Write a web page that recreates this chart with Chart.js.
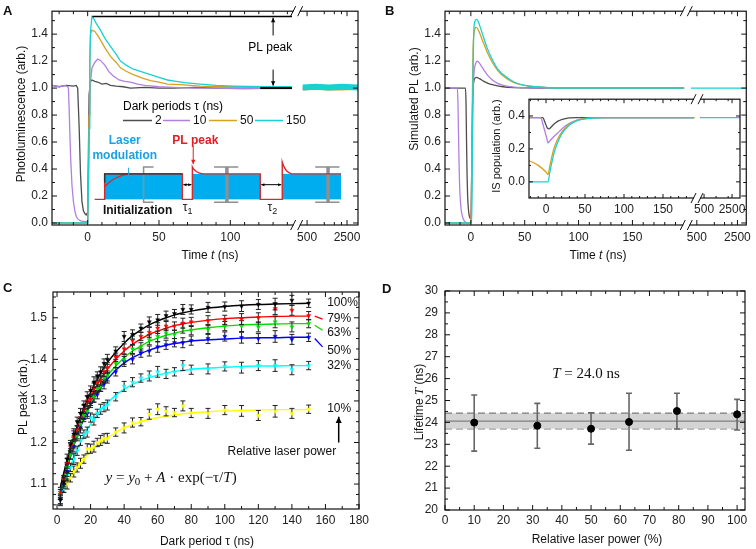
<!DOCTYPE html>
<html lang="en">
<head>
<meta charset="utf-8">
<title>Dark-period photoluminescence</title>
<script src="https://cdn.jsdelivr.net/npm/chart.js@4.4.1/dist/chart.umd.min.js"></script>
<style>
  html, body { margin: 0; padding: 0; background: #fff; }
  #fig { position: relative; width: 756px; height: 549px; overflow: hidden; }
  #fig canvas { position: absolute; }
</style>
</head>
<body>
<div id="fig">
  <canvas id="cA" width="378" height="275" style="left:0px;top:0px"></canvas>
  <canvas id="cB" width="378" height="275" style="left:378px;top:0px"></canvas>
  <canvas id="cBin" width="270" height="135" style="left:480px;top:88px"></canvas>
  <canvas id="cC" width="378" height="274" style="left:0px;top:275px"></canvas>
  <canvas id="cD" width="378" height="274" style="left:378px;top:275px"></canvas>
</div>
<script>
const SANS = '"Liberation Sans", Arial, sans-serif'
const SERIF = '"Liberation Serif", "Times New Roman", serif'
Chart.defaults.font.family = SANS
Chart.defaults.font.size = 12
Chart.defaults.color = '#222'

// ---------- A: measured PL for four dark periods (t in ns) ----------
const darkPeriods = ['2', '10', '50', '150']
const tA_2 = [-25,-20,-15,-10,-8,-7,-6,-5,-4,-3,-2,-1,0,0.5,1,2,3,5,7,10,13,16,20,25,30,40,50,60,75,90,110,130,143]
const plA_2 = [1.02,1.01,1.02,1.015,1.02,1.0,0.72,0.36,0.16,0.09,0.07,0.06,0.08,0.5,0.95,1.05,1.06,1.05,1.045,1.03,1.035,1.02,1.015,1.01,1.0,1.005,1.0,1.0,1.005,1.0,1.0,1.005,1.0]
const tA_10 = [-25,-20,-16,-14,-13.5,-13,-12,-11,-10,-9,-8,-7,-5,-2,0,0.5,1,2,3,5,7,9,12,15,18,22,26,30,35,40,50,60,75,90,110,130,143]
const plA_10 = [1.02,1.01,1.02,1.01,1.0,0.85,0.5,0.28,0.16,0.09,0.05,0.03,0.015,0.01,0.01,0.3,0.7,1.05,1.15,1.19,1.215,1.205,1.17,1.12,1.09,1.06,1.05,1.045,1.03,1.02,1.01,1.005,1.0,1.0,0.995,1.0,1.0]
const tA_50 = [-25,-10,-2,0,0.5,1,1.5,2,3,5,7,9,12,16,20,23,27,32,38,44,50,56,65,79,90,102,120,143]
const plA_50 = [0,0,0,0,0.3,0.8,1.2,1.4,1.43,1.42,1.39,1.355,1.3,1.235,1.19,1.15,1.125,1.1,1.075,1.055,1.045,1.03,1.025,1.015,1.01,1.01,1.005,1.0]
const tA_150 = [-25,-10,-2,0,0.5,1,1.5,2,3,4,6,9,12,16,20,23,27,32,38,44,50,56,62,68,79,90,102,126,143]
const plA_150 = [0,0,0,0,0.25,0.7,1.15,1.42,1.53,1.52,1.48,1.43,1.37,1.31,1.25,1.2,1.17,1.14,1.12,1.1,1.08,1.06,1.05,1.04,1.03,1.02,1.015,1.01,1.01]
const tA_late = [420, 700, 1200, 2000, 3900]
const plLateA_2 = [1.0, 1.0, 1.0, 1.0, 1.0]
const plLateA_10 = [1.0, 1.0, 1.0, 1.0, 1.0]
const plLateA_50 = [0.99, 0.995, 0.99, 0.99, 0.995]
const plLateA_150 = [1.005, 1.01, 1.005, 1.01, 1.005]
const xTicksA = [0, 50, 100, 500, 2500]
const yTicksPL = [0, 0.2, 0.4, 0.6, 0.8, 1.0, 1.2, 1.4]
const plPeakLevel = 1.53

// ---------- B: simulated PL ----------
const tB_2 = [-24,-6,-5,-4.5,-4,-3.5,-3,-2,-1,0,0.5,1,1.5,2,3,5,8,12,16,20,25,30,40,50,60,80,198]
const plB_2 = [1.0,1.0,1.0,0.9,0.6,0.35,0.2,0.08,0.04,0.03,0.2,0.55,0.85,0.98,1.06,1.08,1.07,1.05,1.035,1.025,1.017,1.01,1.004,1.002,1.0,1.0,1.0]
const tB_10 = [-24,-12.5,-12,-11.5,-11,-10.5,-10,-9,-8,-7,-5.5,-3,0,0.5,1,2,3,4,6,8,10,12,16,20,25,30,40,50,60,80,198]
const plB_10 = [1.0,1.0,0.9,0.68,0.46,0.3,0.2,0.1,0.055,0.03,0.01,0,0,0.15,0.45,0.95,1.12,1.17,1.2,1.185,1.16,1.135,1.09,1.06,1.035,1.02,1.007,1.003,1.0,1.0,1.0]
const tB_50 = [-24,0,0.5,1,1.5,2,3,4,5,7,10,15,20,25,30,40,50,60,80,198]
const plB_50 = [0,0,0.15,0.6,1.0,1.27,1.41,1.445,1.45,1.43,1.37,1.27,1.19,1.13,1.09,1.04,1.02,1.01,1.0,1.0]
const tB_150 = [-24,0.8,1.2,1.6,2,2.5,3,4,5.5,7,10,15,20,25,30,40,50,60,80,198]
const plB_150 = [0,0,0.3,0.75,1.1,1.35,1.46,1.5,1.51,1.49,1.42,1.3,1.21,1.14,1.1,1.045,1.02,1.01,1.0,1.0]
const tB_late = [395, 3550]
const plB_late = [1.0, 1.0]
const xTicksB = [0, 50, 100, 150, 500, 2500]

// ---------- B inset: IS population ----------
const tIn_2 = [-22,-4,-2,0,2,4,6,9,12,16,20,25,30,40,60,190]
const isIn_2 = [0.39,0.39,0.37,0.345,0.325,0.322,0.33,0.345,0.358,0.37,0.378,0.384,0.388,0.39,0.39,0.39]
const tIn_10 = [-22,-6.5,-4,-1,1,2.5,5,10,15,20,25,30,40,50,70,190]
const isIn_10 = [0.39,0.39,0.35,0.3,0.265,0.237,0.25,0.275,0.297,0.32,0.34,0.355,0.375,0.385,0.39,0.39]
const tIn_50 = [-22,-10,0,2.6,5,10,15,20,30,40,60,80,190]
const isIn_50 = [0.13,0.1,0.06,0.045,0.1,0.2,0.26,0.3,0.35,0.375,0.388,0.39,0.39]
const tIn_150 = [-22,2.6,5,10,15,20,30,40,60,80,190]
const isIn_150 = [0,0,0.06,0.17,0.24,0.29,0.345,0.372,0.387,0.39,0.39]
const tIn_late = [396, 3950]
const isIn_late = [0.39, 0.39]
const yTicksIn = [0, 0.2, 0.4]

// ---------- C: PL peak vs dark period ----------
const powerLabels = ['100%', '79%', '63%', '50%', '32%', '10%']
const tauC = [2,4,6,8,10,12,14,16,18,20,22,24,26,28,30,35,40,45,50,55,60,65,70,75,80,90,100,110,120,130,140,150]
const peak100 = [1.062,1.105,1.16,1.195,1.22,1.25,1.27,1.29,1.31,1.325,1.345,1.36,1.37,1.39,1.40,1.42,1.455,1.46,1.475,1.49,1.495,1.505,1.51,1.52,1.52,1.525,1.527,1.528,1.532,1.533,1.542,1.535]
const peak79 = [1.08,1.11,1.15,1.19,1.215,1.23,1.26,1.28,1.30,1.305,1.33,1.345,1.35,1.37,1.38,1.405,1.425,1.445,1.455,1.465,1.475,1.48,1.48,1.487,1.49,1.493,1.495,1.497,1.50,1.522,1.518,1.505]
const peak63 = [1.075,1.11,1.14,1.17,1.20,1.215,1.245,1.265,1.275,1.30,1.31,1.33,1.335,1.355,1.36,1.39,1.40,1.425,1.43,1.447,1.455,1.462,1.46,1.475,1.47,1.472,1.48,1.48,1.478,1.49,1.478,1.486]
const peak50 = [1.065,1.10,1.13,1.17,1.19,1.22,1.235,1.26,1.27,1.295,1.31,1.315,1.335,1.34,1.355,1.37,1.395,1.40,1.415,1.42,1.43,1.435,1.44,1.44,1.445,1.45,1.455,1.452,1.45,1.455,1.448,1.453]
const peak32 = [1.06,1.09,1.12,1.14,1.16,1.18,1.205,1.22,1.225,1.26,1.255,1.27,1.28,1.285,1.29,1.31,1.335,1.345,1.355,1.36,1.37,1.365,1.37,1.385,1.375,1.377,1.383,1.38,1.385,1.385,1.375,1.385]
const peak10 = [1.075,1.09,1.10,1.115,1.13,1.14,1.15,1.16,1.185,1.185,1.19,1.20,1.205,1.21,1.21,1.225,1.235,1.248,1.25,1.268,1.28,1.275,1.272,1.288,1.271,1.27,1.278,1.276,1.265,1.275,1.27,1.28]
const peakErr = [0.012,0.01,0.012,0.01,0.013,0.011,0.012,0.01,0.012,0.011,0.013,0.01,0.012,0.011,0.012,0.01,0.012,0.011,0.01,0.012,0.013,0.011,0.01,0.012,0.011,0.012,0.011,0.013,0.012,0.014,0.012,0.01]
const fit100 = [1.093,1.127,1.158,1.188,1.214,1.239,1.262,1.283,1.302,1.320,1.337,1.352,1.367,1.380,1.392,1.417,1.439,1.457,1.471,1.483,1.492,1.500,1.507,1.512,1.516,1.523,1.527,1.530,1.532,1.533,1.534,1.535]
const fit79 = [1.091,1.124,1.154,1.182,1.208,1.232,1.254,1.274,1.293,1.309,1.325,1.339,1.353,1.365,1.376,1.400,1.420,1.436,1.449,1.460,1.468,1.475,1.481,1.485,1.489,1.494,1.498,1.500,1.502,1.503,1.504,1.504]
const fit63 = [1.082,1.115,1.144,1.172,1.197,1.220,1.241,1.261,1.279,1.296,1.311,1.325,1.338,1.350,1.361,1.384,1.404,1.420,1.432,1.443,1.451,1.458,1.463,1.468,1.471,1.476,1.480,1.483,1.484,1.485,1.486,1.486]
const fit50 = [1.071,1.106,1.137,1.166,1.192,1.216,1.237,1.257,1.275,1.291,1.306,1.319,1.331,1.342,1.352,1.374,1.391,1.404,1.414,1.422,1.429,1.434,1.438,1.441,1.444,1.447,1.449,1.451,1.452,1.452,1.453,1.453]
const fit32 = [1.065,1.093,1.119,1.142,1.163,1.182,1.200,1.216,1.231,1.244,1.256,1.267,1.278,1.287,1.295,1.314,1.328,1.340,1.349,1.356,1.362,1.367,1.371,1.373,1.376,1.379,1.381,1.383,1.384,1.384,1.385,1.385]
const fit10 = [1.072,1.088,1.103,1.117,1.129,1.141,1.152,1.161,1.170,1.179,1.187,1.194,1.201,1.207,1.212,1.224,1.235,1.243,1.250,1.255,1.260,1.263,1.266,1.269,1.271,1.274,1.276,1.277,1.278,1.279,1.279,1.279]
const labelLevelC = [1.537, 1.499, 1.463, 1.422, 1.384, 1.281]

// ---------- D: lifetime vs laser power ----------
const powD = [10, 31.6, 50, 63, 79.4, 100]
const lifeD = [23.99, 23.85, 23.71, 24.02, 24.52, 24.37]
const lifeLoD = [22.69, 22.82, 23.01, 22.73, 23.70, 23.65]
const lifeHiD = [25.25, 24.87, 24.44, 25.33, 25.33, 25.05]
const lifeMean = 24.06
const lifeBand = [23.71, 24.42]

// broken time axes: linear up to the break, log-like after it
const log5 = v => Math.log(v) / Math.log(5)
const axA = t => t < 300 ? t : 153.8 + 28 * log5(t / 500)
const axB = t => t < 300 ? t : 209.8 + 37.7 * log5(t / 500)
const axI = t => t < 300 ? t : 202.6 + 35.9 * log5(t / 500)

const colGray = '#4d4d4d', colPurple = '#b27fe2', colOrange = '#d6a21e', colCyan = '#19d1d1'
const colsC = ['#000000', '#ff0000', '#00dd00', '#0000ff', '#00ffff', '#ffff00']

function series(t, v, map, color, width, order, smooth) {
    return {
        data: t.map((tt, i) => ({ x: map(tt), y: v[i] })),
        borderColor: color, borderWidth: width, pointRadius: 0, fill: false, order,
        tension: smooth ? 0.4 : 0, cubicInterpolationMode: smooth ? 'monotone' : 'default',
    }
}

function axis(min, max, pos, lab, size, pad, fs) {
    return {
        type: 'linear', min, max,
        grid: { display: false, drawTicks: false }, border: { display: false },
        afterFit: s => { if (s.isHorizontal()) s.height = size; else s.width = size },
        afterBuildTicks: s => { s.ticks = pos.map(v => ({ value: v })) },
        ticks: { autoSkip: false, maxRotation: 0, padding: pad, color: '#222',
                 font: { family: SANS, size: fs || 12 }, callback: (v, i) => lab[i] },
    }
}

function options(pad, x, y) {
    return {
        responsive: false, animation: false, events: [],
        layout: { padding: pad },
        plugins: { legend: { display: false }, tooltip: { enabled: false } },
        scales: { x, y },
    }
}

// box with inward ticks on all four sides
function frame(chart, o) {
    const { ctx, chartArea: a } = chart, sx = chart.scales.x, sy = chart.scales.y
    const maj = o.maj || 5, min = o.min || 3
    ctx.save()
    ctx.strokeStyle = '#111'
    ctx.lineWidth = 1.2
    ctx.strokeRect(a.left, a.top, a.right - a.left, a.bottom - a.top)
    ctx.lineWidth = 1
    ctx.beginPath()
    const xt = (v, l) => { const p = sx.getPixelForValue(v); ctx.moveTo(p, a.bottom); ctx.lineTo(p, a.bottom - l); ctx.moveTo(p, a.top); ctx.lineTo(p, a.top + l) }
    const yt = (v, l) => { const p = sy.getPixelForValue(v); ctx.moveTo(a.left, p); ctx.lineTo(a.left + l, p); ctx.moveTo(a.right, p); ctx.lineTo(a.right - l, p) }
    sx.ticks.forEach(t => xt(t.value, maj))
    o.xMinor.forEach(v => xt(v, min))
    sy.ticks.forEach(t => yt(t.value, maj))
    o.yMinor.forEach(v => yt(v, min))
    ctx.stroke()
    if (o.xBreak != null) {
        const p = sx.getPixelForValue(o.xBreak)
        ;[a.top, a.bottom].forEach(yy => {
            ctx.fillStyle = '#fff'
            ctx.fillRect(p - 3, yy - 2, 6, 4)
            ctx.beginPath()
            ctx.moveTo(p - 6, yy + 5); ctx.lineTo(p - 1, yy - 5)
            ctx.moveTo(p + 1, yy + 5); ctx.lineTo(p + 6, yy - 5)
            ctx.stroke()
        })
    }
    ctx.restore()
}

// mixed-style text: parts = [text, font, dy]
function rich(ctx, x, y, parts, align, rot) {
    ctx.save()
    ctx.translate(x, y)
    if (rot) ctx.rotate(rot)
    let w = 0
    parts.forEach(p => { ctx.font = p[1]; w += ctx.measureText(p[0]).width })
    let cx = align === 'left' ? 0 : align === 'right' ? -w : -w / 2
    ctx.textAlign = 'left'
    ctx.textBaseline = 'middle'
    parts.forEach(p => { ctx.font = p[1]; ctx.fillText(p[0], cx, p[2] || 0); cx += ctx.measureText(p[0]).width })
    ctx.restore()
}

function arrow(ctx, x1, y1, x2, y2, head, both) {
    ctx.beginPath(); ctx.moveTo(x1, y1); ctx.lineTo(x2, y2); ctx.stroke()
    const tip = (xa, ya, xb, yb) => {
        const g = Math.atan2(yb - ya, xb - xa)
        ctx.beginPath()
        ctx.moveTo(xb, yb)
        ctx.lineTo(xb - head * Math.cos(g - 0.45), yb - head * Math.sin(g - 0.45))
        ctx.lineTo(xb - head * Math.cos(g + 0.45), yb - head * Math.sin(g + 0.45))
        ctx.closePath(); ctx.fill()
    }
    tip(x1, y1, x2, y2)
    if (both) tip(x2, y2, x1, y1)
}

function line(ctx, x1, y1, x2, y2) { ctx.beginPath(); ctx.moveTo(x1, y1); ctx.lineTo(x2, y2); ctx.stroke() }

const errBars = {
    id: 'errBars',
    beforeDatasetDraw(chart, args) {
        const ds = chart.data.datasets[args.index]
        if (!ds.errLo) return
        const { ctx } = chart, sx = chart.scales.x, sy = chart.scales.y
        ctx.save()
        ctx.strokeStyle = ds.errColor
        ctx.lineWidth = ds.errWidth
        ctx.beginPath()
        ds.data.forEach((p, i) => {
            const x = sx.getPixelForValue(p.x), y1 = sy.getPixelForValue(ds.errLo[i]), y2 = sy.getPixelForValue(ds.errHi[i])
            ctx.moveTo(x, y1); ctx.lineTo(x, y2)
            ctx.moveTo(x - ds.cap, y1); ctx.lineTo(x + ds.cap, y1)
            ctx.moveTo(x - ds.cap, y2); ctx.lineTo(x + ds.cap, y2)
        })
        ctx.stroke()
        ctx.restore()
    },
}

const tens = (a, b, skip) => { const r = []; for (let v = a; v <= b; v += 10) if (!skip.includes(v)) r.push(v); return r }

// ================= A =================
const decoA = {
    id: 'decoA',
    afterDraw(chart) {
        const { ctx } = chart
        const X = v => chart.scales.x.getPixelForValue(v), Y = v => chart.scales.y.getPixelForValue(v)
        frame(chart, { xMinor: tens(-20, 140, [0, 50, 100]).concat([axA(1000), axA(1500), axA(2000)]),
                       yMinor: [0.1, 0.3, 0.5, 0.7, 0.9, 1.1, 1.3, 1.5], xBreak: 146.5 })
        ctx.save()
        ctx.fillStyle = '#111'
        ctx.font = 'bold 13px ' + SANS
        ctx.textBaseline = 'middle'
        ctx.fillText('A', 3, 11)
        rich(ctx, 22, 114, [['Photoluminescence (arb.)', '12px ' + SANS]], 'center', -Math.PI / 2)
        rich(ctx, 210, 256, [['Time ', '12px ' + SANS], ['t', 'italic 12px ' + SANS], [' (ns)', '12px ' + SANS]])

        // PL peak marker
        ctx.strokeStyle = '#000'; ctx.fillStyle = '#000'
        ctx.lineWidth = 1.5
        line(ctx, X(3.3), Y(plPeakLevel), X(143.2), Y(plPeakLevel))
        ctx.lineWidth = 2
        line(ctx, X(121), Y(1.0), X(143.2), Y(1.0))
        ctx.lineWidth = 1
        arrow(ctx, X(130), Y(1.39), X(130), Y(1.522), 5)
        arrow(ctx, X(130), Y(1.137), X(130), Y(1.018), 5)
        rich(ctx, X(128), Y(1.297), [['PL peak', '12px ' + SANS]])

        // legend
        rich(ctx, 123, 107, [['Dark periods τ (ns)', '12px ' + SANS]], 'left')
        const leg = [[123, 152, 155, colGray], [163, 190, 193, colPurple], [209, 237, 240, colOrange], [255, 283, 286, colCyan]]
        leg.forEach((l, i) => {
            ctx.strokeStyle = l[3]; ctx.lineWidth = 1.5
            line(ctx, l[0], 120.5, l[1], 120.5)
            ctx.fillStyle = '#111'
            rich(ctx, l[2], 120.5, [[darkPeriods[i], '12px ' + SANS]], 'left')
        })

        // laser-modulation sketch (axis units of this panel)
        const lo = 0.175, hi = 0.364
        ctx.fillStyle = '#00aeef'
        ;[[11.9, 66.4], [73.4, 121], [136.4, 177.6]].forEach(r => ctx.fillRect(X(r[0]), Y(hi), X(r[1]) - X(r[0]), Y(lo) - Y(hi)))
        ctx.strokeStyle = '#8f8f8f'
        ctx.lineWidth = 1.5
        ctx.beginPath()
        ctx.moveTo(X(46.2), Y(0.415)); ctx.lineTo(X(39.2), Y(0.415)); ctx.lineTo(X(39.2), Y(0.153)); ctx.lineTo(X(46.2), Y(0.153))
        ctx.stroke()
        ;[97.6, 168.5].forEach(u => {
            ctx.lineWidth = 1.5
            ctx.beginPath()
            ctx.moveTo(X(u - 9), Y(0.415)); ctx.lineTo(X(u + 8), Y(0.415))
            ctx.moveTo(X(u - 9), Y(0.153)); ctx.lineTo(X(u + 8), Y(0.153))
            ctx.stroke()
            ctx.lineWidth = 3.5
            line(ctx, X(u), Y(0.415), X(u), Y(0.153))
        })
        ctx.strokeStyle = '#d42a2a'
        ctx.lineWidth = 1.4
        ctx.beginPath()
        ctx.moveTo(X(4.9), Y(lo)); ctx.lineTo(X(11.9), Y(lo)); ctx.lineTo(X(11.9), Y(hi)); ctx.lineTo(X(66.4), Y(hi))
        ctx.lineTo(X(66.4), Y(lo)); ctx.lineTo(X(73.4), Y(lo)); ctx.lineTo(X(73.4), Y(0.415))
        ctx.quadraticCurveTo(X(75.5), Y(0.37), X(81), Y(hi))
        ctx.lineTo(X(121), Y(hi)); ctx.lineTo(X(121), Y(lo)); ctx.lineTo(X(136.4), Y(lo)); ctx.lineTo(X(136.4), Y(0.45))
        ctx.quadraticCurveTo(X(138.5), Y(0.375), X(143), Y(hi)); ctx.lineTo(X(177.6), Y(hi))
        ctx.stroke()
        ctx.beginPath()
        ctx.moveTo(X(11.9), Y(0.27)); ctx.quadraticCurveTo(X(19), Y(0.35), X(29), Y(hi))
        ctx.stroke()
        ctx.strokeStyle = '#333'
        ctx.beginPath()
        ctx.moveTo(X(11.9), Y(0.3)); ctx.lineTo(X(11.9), Y(hi)); ctx.lineTo(X(66.4), Y(hi))
        ctx.stroke()
        ctx.strokeStyle = '#000'; ctx.fillStyle = '#000'; ctx.lineWidth = 1
        arrow(ctx, X(66.4) + 1, Y(0.284), X(73.4) - 1, Y(0.284), 3.5, true)
        arrow(ctx, X(121) + 1, Y(0.284), X(136.4) - 1, Y(0.284), 3.5, true)
        ctx.fillStyle = '#111'
        rich(ctx, X(70), Y(0.116), [['τ', '12px ' + SANS], ['1', '9px ' + SANS, 4]])
        rich(ctx, X(129.4), Y(0.116), [['τ', '12px ' + SANS], ['2', '9px ' + SANS, 4]])
        rich(ctx, X(35), Y(0.089), [['Initialization', 'bold 12px ' + SANS]])
        ctx.fillStyle = '#1ba1e2'
        rich(ctx, X(26), Y(0.608), [['Laser', 'bold 12px ' + SANS]])
        rich(ctx, X(26), Y(0.501), [['modulation', 'bold 12px ' + SANS]])
        ctx.strokeStyle = '#1ba1e2'
        arrow(ctx, X(28.7), Y(0.41), X(28.7), Y(0.305), 5)
        ctx.fillStyle = '#e02020'
        rich(ctx, X(75.5), Y(0.608), [['PL peak', 'bold 12px ' + SANS]])
        ctx.strokeStyle = '#e02020'
        arrow(ctx, X(74), Y(0.567), X(74), Y(0.436), 5)
        ctx.restore()
    },
}

new Chart(document.getElementById('cA'), {
    type: 'line',
    data: { datasets: [
        series(tA_150, plA_150, axA, colCyan, 1.3, 0),
        series(tA_50, plA_50, axA, colOrange, 1.3, 1),
        series(tA_10, plA_10, axA, colPurple, 1.3, 2),
        series(tA_2, plA_2, axA, colGray, 1.3, 3),
        series(tA_late, plLateA_150, axA, colCyan, 6, 4),
        series(tA_late, plLateA_50, axA, colOrange, 2, 5),
        series(tA_late, plLateA_10, axA, colPurple, 1.3, 6),
        series(tA_late, plLateA_2, axA, colGray, 1.3, 7),
    ] },
    options: options({ top: 7, right: 20, left: 0, bottom: 0 },
        axis(-25, 189.5, xTicksA.map(axA), xTicksA.map(String), 50, 5),
        axis(-0.015, 1.57, yTicksPL, yTicksPL.map(v => v.toFixed(1)), 52, 4)),
    plugins: [decoA],
})

// ================= B =================
const decoB = {
    id: 'decoB',
    afterDraw(chart) {
        const { ctx } = chart
        frame(chart, { xMinor: tens(-20, 190, [0, 50, 100, 150]).concat([axB(1000), axB(1500), axB(2000)]),
                       yMinor: [0.1, 0.3, 0.5, 0.7, 0.9, 1.1, 1.3, 1.5], xBreak: 200 })
        ctx.save()
        ctx.fillStyle = '#111'
        ctx.font = 'bold 13px ' + SANS
        ctx.textBaseline = 'middle'
        ctx.fillText('B', 7, 11)
        rich(ctx, 37, 99, [['Simulated PL (arb.)', '12px ' + SANS]], 'center', -Math.PI / 2)
        rich(ctx, 220, 256, [['Time ', '12px ' + SANS], ['t', 'italic 12px ' + SANS], [' (ns)', '12px ' + SANS]])
        ctx.restore()
    },
}

new Chart(document.getElementById('cB'), {
    type: 'line',
    data: { datasets: [
        series(tB_150, plB_150, axB, colCyan, 1.3, 0, true),
        series(tB_50, plB_50, axB, colOrange, 1.3, 1, true),
        series(tB_10, plB_10, axB, colPurple, 1.3, 2, true),
        series(tB_2, plB_2, axB, colGray, 1.3, 3, true),
        series(tB_late, plB_late, axB, colCyan, 1.3, 4),
    ] },
    options: options({ top: 7, right: 7, left: 0, bottom: 0 },
        axis(-24, 255.7, xTicksB.map(axB), xTicksB.map(String), 50, 5),
        axis(-0.015, 1.57, yTicksPL, yTicksPL.map(v => v.toFixed(1)), 67, 4)),
    plugins: [decoB],
})

const decoIn = {
    id: 'decoIn',
    afterDraw(chart) {
        const { ctx } = chart
        frame(chart, { xMinor: tens(-20, 180, [0, 50, 100, 150]).concat([axI(1000), axI(2000)]),
                       yMinor: [0.1, 0.3], xBreak: 193.6, maj: 4, min: 2 })
        ctx.save()
        ctx.fillStyle = '#111'
        rich(ctx, 17, 58, [['IS population (arb.)', '11px ' + SANS]], 'center', -Math.PI / 2)
        ctx.restore()
    },
}

new Chart(document.getElementById('cBin'), {
    type: 'line',
    data: { datasets: [
        series(tIn_150, isIn_150, axI, colCyan, 1.3, 0, true),
        series(tIn_50, isIn_50, axI, colOrange, 1.3, 1, true),
        series(tIn_10, isIn_10, axI, colPurple, 1.3, 2, true),
        series(tIn_2, isIn_2, axI, colGray, 1.3, 3, true),
        series(tIn_late, isIn_late, axI, colCyan, 1.3, 4),
    ] },
    options: options({ top: 6, right: 10, left: 0, bottom: 0 },
        axis(-21.8, 248.7, xTicksB.map(axI), xTicksB.map(String), 25, 4),
        axis(-0.098, 0.502, yTicksIn, yTicksIn.map(v => v.toFixed(1)), 49, 4)),
    plugins: [decoIn],
})

// ================= C =================
const decoC = {
    id: 'decoC',
    afterDraw(chart) {
        const { ctx } = chart
        const X = v => chart.scales.x.getPixelForValue(v), Y = v => chart.scales.y.getPixelForValue(v)
        const minorY = [1.05, 1.075, 1.125, 1.15, 1.175, 1.225, 1.25, 1.275, 1.325, 1.35, 1.375, 1.425, 1.45, 1.475, 1.525, 1.55]
        frame(chart, { xMinor: [10, 30, 50, 70, 90, 110, 130, 150, 170], yMinor: minorY })
        ctx.save()
        ctx.fillStyle = '#111'
        ctx.font = 'bold 13px ' + SANS
        ctx.textBaseline = 'middle'
        ctx.fillText('C', 3, 13)
        rich(ctx, 24, 122, [['PL peak (arb.)', '12px ' + SANS]], 'center', -Math.PI / 2)
        rich(ctx, 207, 267, [['Dark period τ (ns)', '12px ' + SANS]])
        powerLabels.forEach((s, i) => rich(ctx, X(161), Y(labelLevelC[i]), [[s, '12px ' + SANS]], 'left'))
        ctx.lineWidth = 1.3
        ;[[1, 1.504, 1.497], [2, 1.482, 1.47], [3, 1.45, 1.43]].forEach(d => {
            ctx.strokeStyle = colsC[d[0]]
            line(ctx, X(153.6), Y(d[1]), X(158.3), Y(d[2]))
        })
        ctx.strokeStyle = '#000'; ctx.fillStyle = '#000'; ctx.lineWidth = 1.5
        arrow(ctx, X(167.9), Y(1.2), X(167.9), Y(1.262), 7)
        ctx.fillStyle = '#111'
        rich(ctx, X(134), Y(1.178), [['Relative laser power', '12px ' + SANS]])
        const it = 'italic 15px ' + SERIF, up = '15px ' + SERIF
        rich(ctx, X(68), Y(1.115), [['y', it], [' = ', up], ['y', it], ['0', '11px ' + SERIF, 4], [' + ', up], ['A', it],
                                    [' · exp(−τ/', up], ['T', it], [')', up]])
        ctx.restore()
    },
}

const peaksC = [peak100, peak79, peak63, peak50, peak32, peak10]
const fitsC = [fit100, fit79, fit63, fit50, fit32, fit10]
const dsC = []
peaksC.forEach((pk, s) => {
    dsC.push({
        data: tauC.map((t, i) => ({ x: t, y: pk[i] })),
        showLine: false, pointStyle: 'triangle', rotation: 180, pointRadius: 2.3,
        backgroundColor: colsC[s], borderColor: colsC[s], borderWidth: 0.5, order: s,
        errLo: pk.map((v, i) => v - peakErr[i]), errHi: pk.map((v, i) => v + peakErr[i]),
        errColor: '#222', errWidth: 1, cap: 2.5,
    })
    dsC.push({
        data: tauC.map((t, i) => ({ x: t, y: fitsC[s][i] })),
        borderColor: colsC[s], borderWidth: 1.4, pointRadius: 0, fill: false,
        tension: 0.4, cubicInterpolationMode: 'monotone', order: 10 + s,
    })
})

const xTicksC = [0, 20, 40, 60, 80, 100, 120, 140, 160, 180]
const yTicksC = [1.1, 1.2, 1.3, 1.4, 1.5]
new Chart(document.getElementById('cC'), {
    type: 'line',
    data: { datasets: dsC },
    options: options({ top: 17, right: 19, left: 0, bottom: 0 },
        axis(-2.4, 180, xTicksC, xTicksC.map(String), 40, 4),
        axis(1.04, 1.562, yTicksC, yTicksC.map(v => v.toFixed(1)), 53, 6)),
    plugins: [errBars, decoC],
})

// ================= D =================
const decoD = {
    id: 'decoD',
    afterDraw(chart) {
        const { ctx } = chart
        const X = v => chart.scales.x.getPixelForValue(v), Y = v => chart.scales.y.getPixelForValue(v)
        const minorX = [5, 15, 25, 35, 45, 55, 65, 75, 85, 95]
        const minorY = [20.5, 21.5, 22.5, 23.5, 24.5, 25.5, 26.5, 27.5, 28.5, 29.5]
        frame(chart, { xMinor: minorX, yMinor: minorY })
        ctx.save()
        ctx.fillStyle = '#111'
        ctx.font = 'bold 13px ' + SANS
        ctx.textBaseline = 'middle'
        ctx.fillText('D', 4, 14)
        rich(ctx, 42, 127, [['Lifetime ', '12px ' + SANS], ['T', 'italic 13px ' + SERIF], [' (ns)', '12px ' + SANS]], 'center', -Math.PI / 2)
        rich(ctx, 219, 265, [['Relative laser power (%)', '12px ' + SANS]])
        rich(ctx, X(48.3), Y(26.2), [['T', 'italic 15px ' + SERIF], [' = 24.0 ns', '15px ' + SERIF]])
        ctx.restore()
    },
}

const xTicksD = [0, 10, 20, 30, 40, 50, 60, 70, 80, 90, 100]
const yTicksD = [20, 21, 22, 23, 24, 25, 26, 27, 28, 29, 30]
new Chart(document.getElementById('cD'), {
    type: 'line',
    data: { datasets: [
        { data: powD.map((p, i) => ({ x: p, y: lifeD[i] })), showLine: false, pointRadius: 3.5,
          backgroundColor: '#000', borderColor: '#000', order: 0,
          errLo: lifeLoD, errHi: lifeHiD, errColor: '#666', errWidth: 1.6, cap: 3 },
        { data: [{ x: 0, y: lifeMean }, { x: 102.7, y: lifeMean }], borderColor: '#808080', borderWidth: 1.2, pointRadius: 0, fill: false, order: 1 },
        { data: [{ x: 0, y: lifeBand[1] }, { x: 102.7, y: lifeBand[1] }], borderColor: '#7a7a7a', borderWidth: 1.3, borderDash: [7, 4],
          pointRadius: 0, fill: '+1', backgroundColor: '#d4d4d4', order: 2 },
        { data: [{ x: 0, y: lifeBand[0] }, { x: 102.7, y: lifeBand[0] }], borderColor: '#7a7a7a', borderWidth: 1.3, borderDash: [7, 4],
          pointRadius: 0, fill: false, order: 3 },
    ] },
    options: options({ top: 16, right: 11, left: 0, bottom: 0 },
        axis(0, 102.7, xTicksD, xTicksD.map(String), 39, 3),
        axis(20, 30, yTicksD, yTicksD.map(String), 67, 7)),
    plugins: [errBars, decoD],
})
</script>
</body>
</html>
